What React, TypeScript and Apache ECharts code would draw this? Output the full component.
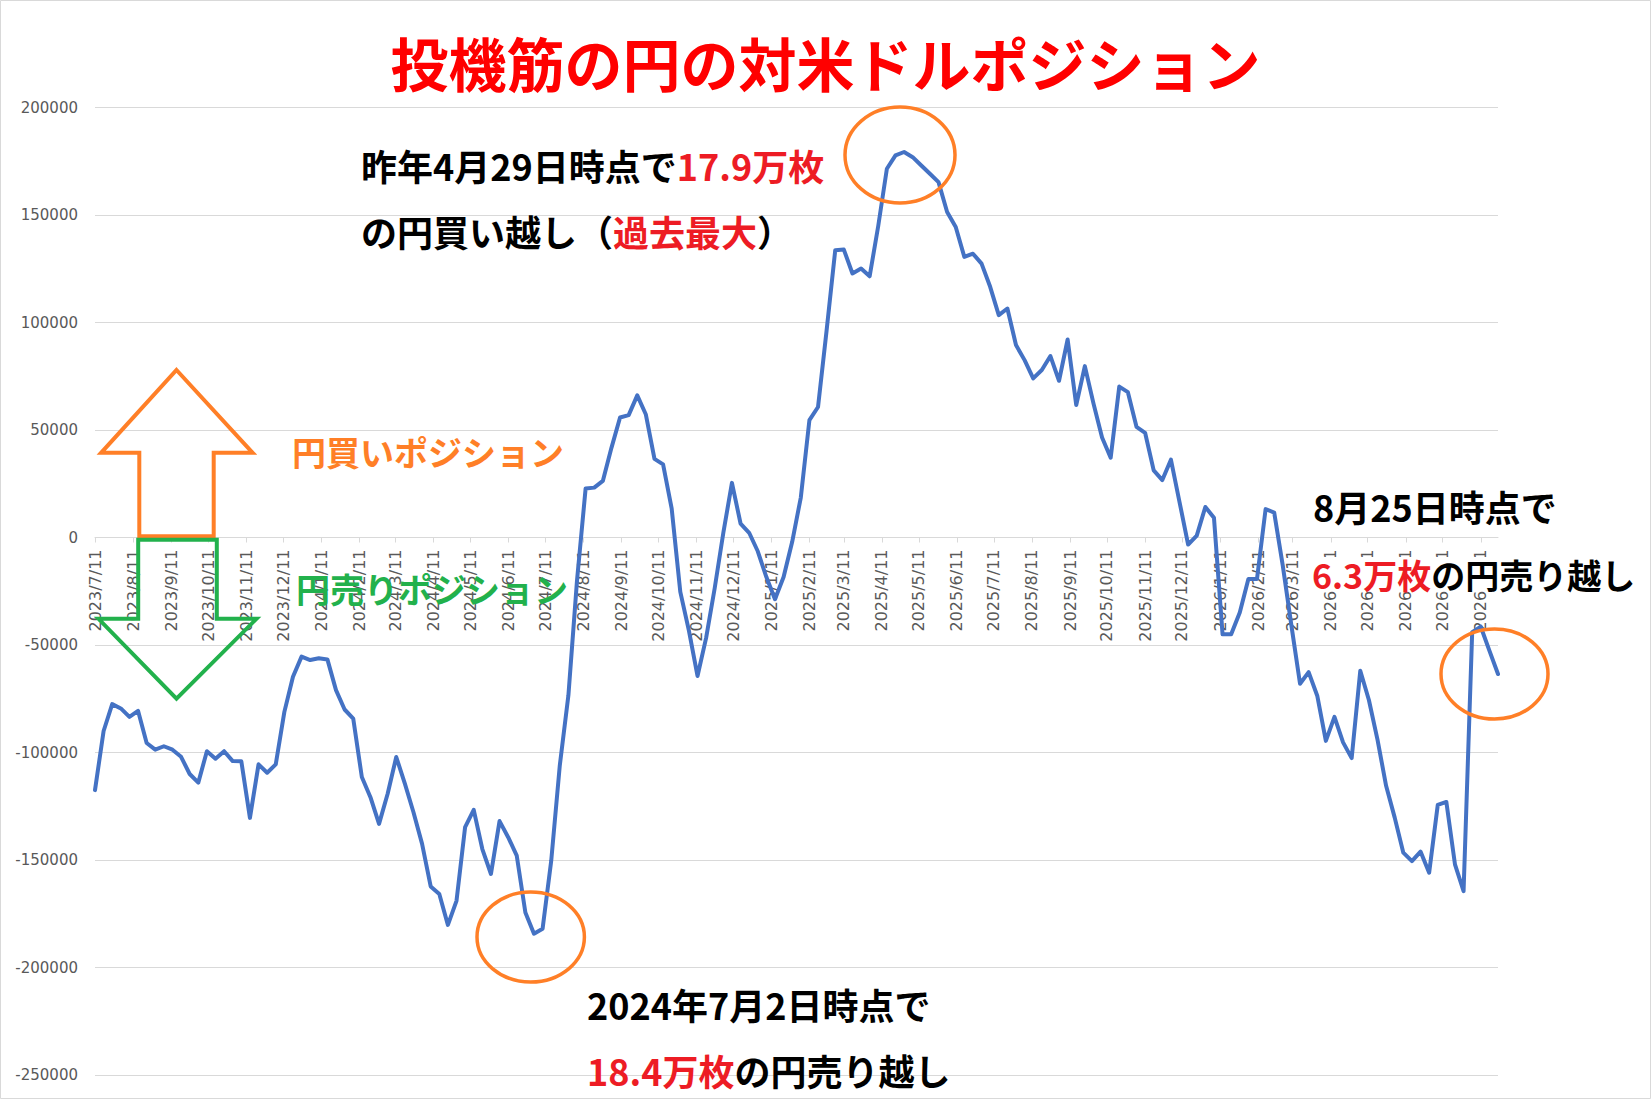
import React, { useEffect, useRef } from "react";
import * as echarts from "echarts";

// ---- data (net yen position of speculators, contracts) ----
const FIRST_REPORT = "2023/7/11"; // weekly (Tuesday) reports from this date

const pos2023 = [
  -117500, -90000, -77500, -79500, -83400, -80600, -95600, -98700, -97100, -98700,
  -102000, -110000, -114000, -99400, -102900, -99400, -104000, -104100, -130400, -105500,
  -109400, -105500, -81100, -64800, -55400,
];
const pos2024 = [
  -57000, -56200, -56700, -71000, -80000, -84200, -111400, -120800, -133200, -119200,
  -102100, -114500, -127800, -142500, -162300, -165800, -180200, -169000, -134700, -126700,
  -144900, -156500, -131900, -139400, -148000, -174400, -184300, -182000, -150500, -106000,
  -73400, -20000, 22800, 23200, 26300, 41700, 55800, 56900, 66100, 57200,
  36600, 34000, 13400, -25300, -43300, -64400, -46700, -23500, 2200, 25400,
  6500, 2200, -6400,
];
const pos2025 = [
  -18400, -28700, -18400, -2000, 18600, 54600, 60700, 96400, 133600, 133900,
  122800, 125100, 121500, 145000, 171500, 177700, 179300, 176900, 173000, 169200,
  165300, 151400, 144400, 130500, 132000, 127400, 116600, 103400, 106500, 89500,
  82500, 74000, 77900, 84400, 72900, 92100, 61600, 79700, 62400, 46500,
  37100, 70200, 67600, 51500, 48700, 31200, 26700, 36200, 16500, -3300,
  900, 14200,
];
const pos2026 = [
  9200, -45000, -45000, -34900, -19300, -19300, 13200, 11600, -13200, -41000,
  -68000, -62600, -73600, -94600, -83400, -95300, -102600, -62000, -75600, -94000,
  -115500, -130300, -146600, -150500, -146100, -155900, -124400, -123000, -152000, -164500,
  -44000, -41500, -52600, -63500,
];

const tickLabels = [
  "2023/7/11", "2023/8/11", "2023/9/11", "2023/10/11", "2023/11/11", "2023/12/11",
  "2024/1/11", "2024/2/11", "2024/3/11", "2024/4/11", "2024/5/11", "2024/6/11",
  "2024/7/11", "2024/8/11", "2024/9/11", "2024/10/11", "2024/11/11", "2024/12/11",
  "2025/1/11", "2025/2/11", "2025/3/11", "2025/4/11", "2025/5/11", "2025/6/11",
  "2025/7/11", "2025/8/11", "2025/9/11", "2025/10/11", "2025/11/11", "2025/12/11",
  "2026/1/11", "2026/2/11", "2026/3/11", "2026/4/11", "2026/5/11", "2026/6/11",
  "2026/7/11", "2026/8/11",
];

const yTicks = { min: -250000, max: 200000, step: 50000 };

// ---- styles ----
const W = 1651;
const H = 1099;
const GRID_BOX = { left: 95, right: 153, top: 107.5, bottom: 24 };
const CJK = "'Noto Sans CJK JP', 'Noto Sans CJK SC', sans-serif";
const AXIS_FONT = "'DejaVu Sans', sans-serif";
const BLUE = "#4472C4";
const GRID = "#D9D9D9";
const LABEL = "#595959";
const TITLE_RED = "#FF0000";
const RED = "#ED1C24";
const ORANGE = "#FF7F27";
const GREEN = "#22B14C";

function parseDate(s: string): number {
  const [y, m, d] = s.split("/").map(Number);
  return new Date(y, m - 1, d).getTime();
}
function fmtDate(v: number): string {
  const d = new Date(v);
  return `${d.getFullYear()}/${d.getMonth() + 1}/${d.getDate()}`;
}

export default function App() {
  const ref = useRef<HTMLDivElement>(null);

  useEffect(() => {
    if (!ref.current) return;
    const chart = echarts.init(ref.current, null, { renderer: "svg" });

    const values = [...pos2023, ...pos2024, ...pos2025, ...pos2026];
    const [fy, fm, fd] = FIRST_REPORT.split("/").map(Number);
    const data = values.map((v, i) => [new Date(fy, fm - 1, fd + 7 * i).getTime(), v]);
    const tickValues = tickLabels.map(parseDate);

    // place the date axis on the zero line (offset from the bottom edge of the grid)
    const gridH = H - GRID_BOX.top - GRID_BOX.bottom;
    const zeroOffset = -gridH * (0 - yTicks.min) / (yTicks.max - yTicks.min);

    const bold = (fill: string, size: number) => ({
      fill,
      color: fill,
      fontSize: size,
      fontWeight: "bold",
      fontFamily: CJK,
    });
    const annot = (x: number, y: number, text: string, size = 36, extra: any = {}) => ({
      type: "text",
      x,
      y,
      z: 100,
      style: {
        text,
        align: "left",
        verticalAlign: "middle",
        fontSize: size,
        fontWeight: "bold",
        fontFamily: CJK,
        fill: "#000",
        rich: { k: bold("#000", size), r: bold(RED, size) },
        ...extra,
      },
    });

    chart.setOption({
      animation: false,
      backgroundColor: "#ffffff",
      grid: { ...GRID_BOX, outerBoundsMode: "none" },
      xAxis: {
        type: "value",
        position: "bottom",
        offset: zeroOffset,
        min: data[0][0],
        max: data[data.length - 1][0],
        axisLine: { onZero: false, lineStyle: { color: GRID, width: 1 } },
        axisTick: { show: true, customValues: tickValues, length: 5, lineStyle: { color: GRID } },
        axisLabel: {
          customValues: tickValues,
          rotate: 90,
          margin: 12,
          color: LABEL,
          fontSize: 16,
          fontFamily: AXIS_FONT,
          hideOverlap: false,
          showMinLabel: true,
          showMaxLabel: true,
          formatter: (v: number) => fmtDate(v),
        },
        splitLine: { show: false },
      },
      yAxis: {
        type: "value",
        min: yTicks.min,
        max: yTicks.max,
        interval: yTicks.step,
        axisLine: { show: false, onZero: false },
        axisTick: { show: false },
        axisLabel: {
          color: LABEL,
          fontSize: 15,
          fontFamily: AXIS_FONT,
          margin: 17,
          formatter: (v: number) => String(v),
        },
        splitLine: { lineStyle: { color: GRID, width: 1 } },
      },
      series: [
        {
          type: "line",
          data,
          showSymbol: false,
          symbol: "none",
          lineStyle: { color: BLUE, width: 4, join: "round", cap: "round" },
          z: 5,
        },
      ],
      graphic: [
        {
          type: "rect",
          silent: true,
          shape: { x: 0.5, y: 0.5, width: W - 1, height: H - 1 },
          style: { fill: "none", stroke: GRID, lineWidth: 1 },
        },
        {
          type: "text",
          x: W / 2,
          y: 62,
          z: 100,
          style: {
            text: "投機筋の円の対米ドルポジション",
            align: "center",
            verticalAlign: "middle",
            fontSize: 58,
            fontWeight: "bold",
            fontFamily: CJK,
            fill: TITLE_RED,
          },
        },
        // up arrow (yen long)
        {
          type: "polygon",
          z: 50,
          shape: {
            points: [
              [176.5, 370], [252.7, 452.8], [213.7, 452.8], [213.7, 536.3],
              [139.3, 536.3], [139.3, 452.8], [101.1, 452.8],
            ],
          },
          style: { fill: "none", stroke: ORANGE, lineWidth: 4, lineJoin: "miter" },
        },
        // down arrow (yen short)
        {
          type: "polygon",
          z: 50,
          shape: {
            points: [
              [138.2, 539.7], [216.8, 539.7], [216.8, 618.8], [256.5, 618.8],
              [176.5, 698.6], [98.5, 618.8], [138.2, 618.8],
            ],
          },
          style: { fill: "none", stroke: GREEN, lineWidth: 4, lineJoin: "miter" },
        },
        {
          type: "text",
          x: 292,
          y: 451,
          z: 100,
          style: {
            text: "円買いポジション",
            align: "left",
            verticalAlign: "middle",
            fontSize: 34,
            fontWeight: "bold",
            fontFamily: CJK,
            fill: ORANGE,
          },
        },
        {
          type: "text",
          x: 296,
          y: 588,
          z: 100,
          style: {
            text: "円売りポジション",
            align: "left",
            verticalAlign: "middle",
            fontSize: 34,
            fontWeight: "bold",
            fontFamily: CJK,
            fill: GREEN,
          },
        },
        // highlight ellipses
        {
          type: "ellipse",
          z: 60,
          shape: { cx: 900, cy: 155, rx: 55, ry: 48 },
          style: { fill: "none", stroke: ORANGE, lineWidth: 3.5 },
        },
        {
          type: "ellipse",
          z: 60,
          shape: { cx: 530.7, cy: 937, rx: 53.7, ry: 45 },
          style: { fill: "none", stroke: ORANGE, lineWidth: 3.5 },
        },
        {
          type: "ellipse",
          z: 60,
          shape: { cx: 1494.5, cy: 674, rx: 53.5, ry: 45 },
          style: { fill: "none", stroke: ORANGE, lineWidth: 3.5 },
        },
        // annotations
        annot(361, 165, "{k|昨年4月29日時点で}{r|17.9万枚}"),
        annot(361, 231, "{k|の円買い越し（}{r|過去最大}{k|）}"),
        annot(587, 1004, "{k|2024年7月2日時点で}"),
        annot(587, 1070, "{r|18.4万枚}{k|の円売り越し}"),
        annot(1313, 506, "{k|8月25日時点で}"),
        annot(1312, 574, "{r|6.3万枚}{k|の円売り越し}", 34, { backgroundColor: "#ffffff" }),
      ],
    });

    return () => chart.dispose();
  }, []);

  return (
    <div
      ref={ref}
      style={{ position: "fixed", left: 0, top: 0, width: W, height: H, background: "#fff" }}
    />
  );
}
